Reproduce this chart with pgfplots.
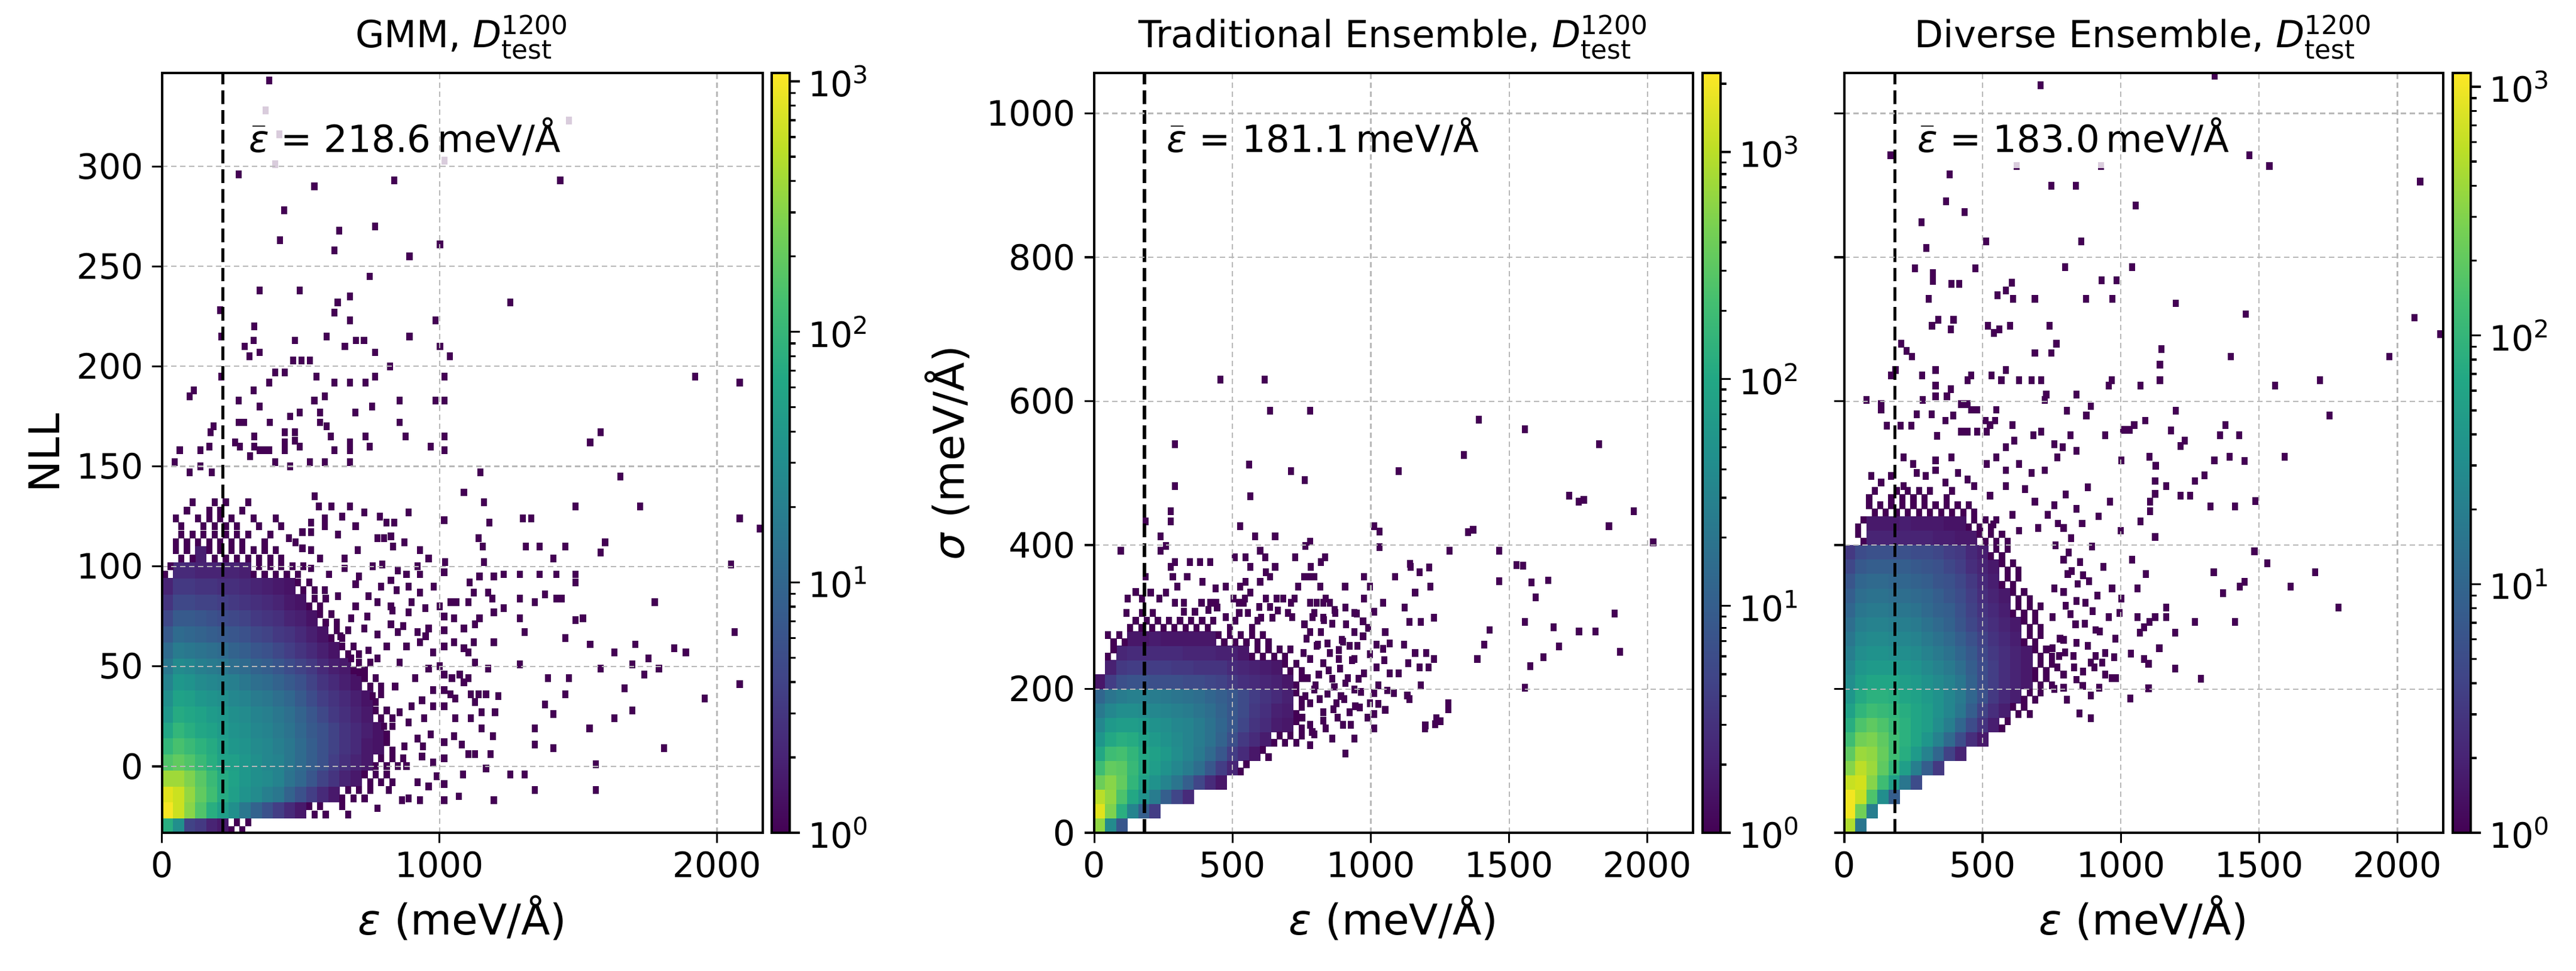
\documentclass[border=0pt]{standalone}
\usepackage{amsmath}
\usepackage{fontspec}
\setmainfont{DejaVu Sans}
\usepackage{pgfplots}
\pgfplotsset{compat=1.18}
\definecolor{vir0}{RGB}{68,1,84}
\pgfdeclareverticalshading{viridisV}{100bp}{rgb(0bp)=(0.267,0.005,0.329); rgb(25bp)=(0.267,0.005,0.329); rgb(30bp)=(0.283,0.141,0.458); rgb(35bp)=(0.254,0.265,0.530); rgb(40bp)=(0.207,0.372,0.553); rgb(45bp)=(0.164,0.471,0.558); rgb(50bp)=(0.128,0.567,0.551); rgb(55bp)=(0.135,0.659,0.518); rgb(60bp)=(0.267,0.749,0.441); rgb(65bp)=(0.478,0.821,0.318); rgb(70bp)=(0.741,0.873,0.150); rgb(75bp)=(0.993,0.906,0.144); rgb(100bp)=(0.993,0.906,0.144)}
\pgfdeclareplotmark{cellA}{\pgfpathrectangle{\pgfqpoint{-2.3pt}{-3.28pt}}{\pgfqpoint{4.6pt}{6.56pt}}\pgfusepathqfill}
\pgfdeclareplotmark{cellB}{\pgfpathrectangle{\pgfqpoint{-2.3pt}{-2.95pt}}{\pgfqpoint{4.6pt}{5.9pt}}\pgfusepathqfill}
\pgfdeclareplotmark{cellS}{\pgfpathrectangle{\pgfqpoint{-1.22pt}{-1.55pt}}{\pgfqpoint{2.44pt}{3.1pt}}\pgfusepathqfill}
\tikzset{annot/.style={anchor=base west, fill=white, fill opacity=0.8, text opacity=1, inner sep=5pt, font=\fontsize{15}{18}\selectfont}}
\pgfplotsset{
  hist/.style={
    scale only axis, height=304.8pt,
    xmin=0, xmax=2165,
    axis on top,
    clip marker paths=true,
    grid=major,
    grid style={line width=0.5pt, color=black!28, dash pattern=on 2.2pt off 1.4pt},
    axis line style={line width=0.9pt},
    tick style={black, line width=0.8pt},
    major tick length=4pt,
    tick align=outside,
    tick pos=left,
    tick label style={font=\fontsize{14}{16}\selectfont},
    label style={font=\fontsize{17}{20}\selectfont},
    title style={font=\fontsize{15}{18}\selectfont, yshift=-4pt},
    /pgf/number format/assume math mode=true,
    /pgf/number format/1000 sep={},
    colormap/viridis,
  },
  cbar/.style={
    anchor=south west, scale only axis, width=7.2pt, height=304.8pt,
    xmin=0, xmax=1, ymin=0,
    axis on top,
    axis line style={line width=0.8pt},
    tick style={black, line width=0.8pt},
    xtick=\empty,
    ytick={0,1,2,3},
    yticklabels={10\textsuperscript{0},10\textsuperscript{1},10\textsuperscript{2},10\textsuperscript{3}},
    major tick length=4pt, minor tick length=2.4pt,
    tick align=outside,
    ytick pos=right, yticklabel pos=right,
    tick label style={font=\fontsize{14}{16}\selectfont},
  },
  cells/.style={scatter, only marks, point meta=explicit, scatter/use mapped color={fill=mapped color}},
  spots/.style={scatter, only marks, mark=cellS, point meta=0, scatter/use mapped color={fill=vir0}},
  meanline/.style={black, line width=1.3pt, dash pattern=on 5.5pt off 2.4pt, no marks, point meta=0, forget plot},
}
\begin{document}
\begin{tikzpicture}
\path[use as bounding box] (0,0) rectangle (1033.44pt,389.52pt);
% ---------------- Panel 1 ----------------
\begin{axis}[hist, name=p1, at={(65pt,55.4pt)}, anchor=south west, width=241pt,
  ymin=-33.3, ymax=346.7,
  xtick={0,1000,2000}, ytick={0,50,100,150,200,250,300},
  point meta min=0, point meta max=3.033,
  title={GMM, \textit{D}$^{\text{1200}}_{\text{test}}$},
  xlabel={\textit{ε} (meV/Å)}, ylabel={NLL}]
\addplot[cells, mark=cellA] table[x=x, y=y, meta=l] {
x y l
20 -30 1.9
60 -30 1.5
100 -30 0.6
140 -30 0.5
180 -30 0.3
220 -30 0.2
20 -22 3.0
60 -22 2.8
100 -22 2.5
140 -22 2.2
180 -22 1.9
220 -22 1.7
260 -22 1.5
300 -22 1.2
340 -22 0.95
380 -22 0.75
420 -22 0.55
460 -22 0.35
500 -22 0.2
20 -14 2.9
60 -14 2.8
100 -14 2.55
140 -14 2.3
180 -14 2.1
220 -14 1.85
260 -14 1.7
300 -14 1.55
340 -14 1.45
380 -14 1.3
420 -14 1.2
460 -14 0.95
500 -14 0.75
540 -14 0.55
580 -14 0.35
620 -14 0.2
20 -6 2.6
60 -6 2.6
100 -6 2.45
140 -6 2.25
180 -6 2.05
220 -6 1.85
260 -6 1.75
300 -6 1.6
340 -6 1.5
380 -6 1.45
420 -6 1.35
460 -6 1.15
500 -6 1.0
540 -6 0.8
580 -6 0.6
620 -6 0.45
660 -6 0.3
700 -6 0.2
20 2 2.2
60 2 2.3
100 2 2.2
140 2 2.05
180 2 1.9
220 2 1.75
260 2 1.7
300 2 1.6
340 2 1.5
380 2 1.4
420 2 1.35
460 2 1.2
500 2 1.05
540 2 0.9
580 2 0.75
620 2 0.55
660 2 0.4
700 2 0.3
740 2 0.2
20 10 2.0
60 10 2.15
100 10 2.05
140 10 1.95
180 10 1.85
220 10 1.7
260 10 1.6
300 10 1.55
340 10 1.45
380 10 1.4
420 10 1.3
460 10 1.2
500 10 1.05
540 10 0.9
580 10 0.75
620 10 0.6
660 10 0.45
700 10 0.35
740 10 0.2
780 10 0.15
20 18 1.8
60 18 2.0
100 18 1.9
140 18 1.8
180 18 1.75
220 18 1.65
260 18 1.55
300 18 1.5
340 18 1.4
380 18 1.35
420 18 1.25
460 18 1.15
500 18 1.0
540 18 0.85
580 18 0.75
620 18 0.6
660 18 0.45
700 18 0.35
740 18 0.25
780 18 0.15
20 26 1.6
60 26 1.85
100 26 1.8
140 26 1.75
180 26 1.65
220 26 1.6
260 26 1.5
300 26 1.45
340 26 1.35
380 26 1.3
420 26 1.2
460 26 1.1
500 26 0.95
540 26 0.8
580 26 0.65
620 26 0.5
660 26 0.4
700 26 0.3
740 26 0.2
20 34 1.5
60 34 1.75
100 34 1.7
140 34 1.6
180 34 1.55
220 34 1.5
260 34 1.4
300 34 1.35
340 34 1.25
380 34 1.2
420 34 1.1
460 34 1.0
500 34 0.85
540 34 0.7
580 34 0.55
620 34 0.45
660 34 0.35
700 34 0.25
740 34 0.15
20 42 1.35
60 42 1.6
100 42 1.55
140 42 1.45
180 42 1.4
220 42 1.35
260 42 1.3
300 42 1.2
340 42 1.1
380 42 1.05
420 42 0.95
460 42 0.85
500 42 0.75
540 42 0.6
580 42 0.45
620 42 0.35
660 42 0.25
700 42 0.15
20 50 1.2
60 50 1.45
100 50 1.4
140 50 1.3
180 50 1.25
220 50 1.2
260 50 1.1
300 50 1.05
340 50 0.95
380 50 0.9
420 50 0.8
460 50 0.7
500 50 0.6
540 50 0.5
580 50 0.35
620 50 0.25
660 50 0.2
20 58 1.05
60 58 1.25
100 58 1.2
140 58 1.15
180 58 1.1
220 58 1.05
260 58 0.95
300 58 0.9
340 58 0.8
380 58 0.75
420 58 0.65
460 58 0.55
500 58 0.45
540 58 0.35
580 58 0.25
620 58 0.15
20 66 0.85
60 66 1.05
100 66 1.0
140 66 0.95
180 66 0.9
220 66 0.85
260 66 0.8
300 66 0.75
340 66 0.65
380 66 0.6
420 66 0.5
460 66 0.45
500 66 0.35
540 66 0.25
580 66 0.15
20 74 0.65
60 74 0.85
100 74 0.85
140 74 0.8
180 74 0.75
220 74 0.7
260 74 0.65
300 74 0.6
340 74 0.5
380 74 0.45
420 74 0.4
460 74 0.3
500 74 0.25
540 74 0.15
20 82 0.45
60 82 0.65
100 82 0.65
140 82 0.6
180 82 0.6
220 82 0.55
260 82 0.5
300 82 0.45
340 82 0.4
380 82 0.35
420 82 0.3
460 82 0.2
500 82 0.15
20 90 0.3
60 90 0.5
100 90 0.5
140 90 0.45
180 90 0.45
220 90 0.4
260 90 0.4
300 90 0.35
340 90 0.3
380 90 0.25
420 90 0.2
460 90 0.15
60 98 0.35
100 98 0.35
140 98 0.3
180 98 0.3
220 98 0.3
260 98 0.3
300 98 0.25
140 106 0.25
};
\addplot[spots] table[x=x, y=y] {
x y
250 -32
270 -28
290 -32
310 -28
530 -20
550 -24
570 -20
590 -24
650 -20
670 -24
650 -16
670 -12
690 -16
710 -12
730 -16
750 -12
730 -4
750 -8
770 -4
790 -8
810 -4
830 -8
770 0
790 4
810 0
830 4
850 0
870 4
810 12
830 8
810 16
830 20
770 28
790 24
810 28
830 24
770 32
790 36
730 44
750 40
770 44
790 40
690 48
710 52
730 48
750 52
650 60
670 56
690 60
710 56
610 64
630 68
650 64
670 68
570 76
590 72
610 76
630 72
530 80
550 84
570 80
590 84
490 92
510 88
530 92
550 88
10 96
30 100
330 96
350 100
370 96
390 100
410 96
430 100
450 96
470 100
490 96
510 100
50 108
70 104
90 108
110 104
170 108
190 104
210 108
230 104
250 108
270 104
290 108
310 104
330 108
350 104
370 108
390 104
410 108
430 104
50 112
70 116
90 112
110 116
130 112
150 116
170 112
190 116
210 112
230 116
250 112
270 116
290 112
310 116
370 112
390 116
50 124
70 120
130 124
150 120
170 124
190 120
210 124
230 120
250 124
270 120
330 124
350 120
410 124
430 120
90 128
110 132
170 128
190 132
210 128
230 132
290 128
310 132
710 95
740 75
760 100
790 90
810 60
830 78
850 98
870 70
900 82
930 96
950 65
980 90
760 35
800 20
840 40
900 30
940 10
990 -5
1000 50
1000 80
387 343
373 328
1467 323
407 301
1018 303
423 316
277 296
836 293
549 290
1435 293
441 278
639 268
768 270
425 263
621 258
892 255
1002 261
749 245
351 238
497 238
677 235
633 232
621 227
1256 232
677 223
210 228
333 220
986 223
214 215
593 215
892 215
479 213
331 213
699 213
728 213
659 210
297 210
351 207
768 207
1002 210
315 205
473 203
503 203
533 203
1038 205
822 200
408 197
443 197
214 195
557 195
768 195
1018 195
1922 195
2082 192
387 192
621 192
677 192
733 192
331 188
114 188
100 185
587 185
277 183
549 183
857 183
986 183
1018 183
351 180
757 180
461 175
497 177
569 177
697 177
277 172
295 172
388 172
569 172
857 172
593 170
186 170
175 167
443 167
479 167
1581 167
333 165
479 163
609 165
733 165
878 165
1018 165
1543 162
264 162
443 162
677 162
280 160
171 160
333 160
351 158
369 158
387 158
443 158
497 160
621 158
677 158
749 160
968 160
1018 158
64 158
138 158
318 155
46 152
138 150
180 147
408 152
461 150
533 152
587 152
677 152
100 147
1148 147
1651 145
1491 130
1723 130
2082 124
2154 119
1301 124
1331 124
1312 110
1361 110
1411 104
1454 110
1597 112
1581 107
2050 101
1232 96
1290 96
1361 96
1421 96
1491 96
1491 92
1191 84
1290 84
1343 82
1421 84
1441 84
1381 86
1776 82
1232 79
1517 74
1491 73
1290 74
2064 67
1306 67
1454 64
1543 61
1706 61
1631 57
1846 59
1888 57
1695 51
1754 54
1791 49
1581 49
1738 46
1290 51
1391 44
1467 44
2082 41
1667 39
1454 36
1956 34
1695 28
1381 31
1411 26
1631 24
1343 19
1541 19
1810 9
1411 9
1343 11
1563 1
1306 -4
1255 -4
1343 -12
1563 -12
1088 137
1160 132
1180 122
1017 123
1140 114
1156 110
1021 102
1160 102
1017 97
1108 92
1144 95
1196 95
1124 87
1176 87
1040 82
1060 82
1104 82
1196 77
1017 75
1052 74
1144 74
1088 69
1128 71
1017 68
1052 62
1124 62
1196 62
1088 59
1104 57
1017 60
1128 52
1176 49
1017 46
1073 46
1045 44
1088 42
1104 44
1113 36
1140 36
1168 36
1017 38
1040 36
1056 34
1212 35
1128 32
1152 27
1200 27
1017 30
1056 24
1113 24
1152 19
1192 15
1052 15
1017 12
1080 11
1104 6
1128 6
1184 6
1017 4
1085 -4
1168 -1
1017 -9
1069 -15
1196 -17
1017 -17
809 122
837 122
801 114
825 115
873 112
929 108
961 104
921 100
881 96
825 93
845 88
889 90
929 87
777 82
825 80
889 77
949 79
825 71
849 67
921 67
961 69
881 60
929 62
977 57
777 54
857 52
913 44
961 49
977 38
937 33
977 30
857 27
889 22
945 24
969 16
921 14
873 10
937 5
977 2
881 0
921 -8
961 -10
865 -17
889 -16
929 -17
817 -12
777 -21
550 135
566 130
610 130
678 130
729 127
785 125
889 127
538 122
586 124
650 125
698 120
506 117
538 117
586 120
634 116
777 114
458 114
482 112
833 110
506 109
538 108
570 104
658 104
706 108
793 101
538 99
602 96
658 99
698 91
586 88
634 85
698 80
745 85
682 74
729 69
642 65
777 66
745 58
682 54
713 47
};
\addplot[meanline] coordinates {(218.6,-33.3) (218.6,346.7)};
\node[annot] at (rel axis cs:0.123,0.896) {$\bar{\text{\itshape ε}}$ = 218.6\,meV/Å};
\end{axis}
\begin{axis}[cbar, at={(309.6pt,55.4pt)}, ymax=3.033,
  minor ytick={0.301,0.477,0.602,0.699,0.778,0.845,0.903,0.954,1.301,1.477,1.602,1.699,1.778,1.845,1.903,1.954,2.301,2.477,2.602,2.699,2.778,2.845,2.903,2.954}]
\shade[shading=viridisV] (axis cs:0,0) rectangle (axis cs:1,3.033);
\end{axis}
% ---------------- Panel 2 ----------------
\begin{axis}[hist, name=p2, at={(439pt,55.4pt)}, anchor=south west, width=240.2pt,
  ymin=0, ymax=1056,
  xtick={0,500,1000,1500,2000}, ytick={0,200,400,600,800,1000},
  point meta min=0, point meta max=3.348,
  title={Traditional Ensemble, \textit{D}$^{\text{1200}}_{\text{test}}$},
  xlabel={\textit{ε} (meV/Å)}, ylabel={\textit{σ} (meV/Å)}]
\addplot[cells, mark=cellB] table[x=x, y=y, meta=l] {
x y l
20 10 2.8
60 10 1.6
100 10 0.9
20 30 3.2
60 30 2.7
100 30 2.1
140 30 1.5
180 30 1.0
220 30 0.6
20 50 3.0
60 50 2.8
100 50 2.4
140 50 2.0
180 50 1.7
220 50 1.4
260 50 1.0
300 50 0.7
340 50 0.4
20 70 2.6
60 70 2.75
100 70 2.55
140 70 2.2
180 70 1.9
220 70 1.7
260 70 1.5
300 70 1.3
340 70 1.0
380 70 0.7
420 70 0.4
460 70 0.2
20 90 2.3
60 90 2.55
100 90 2.5
140 90 2.25
180 90 2.0
220 90 1.85
260 90 1.7
300 90 1.55
340 90 1.4
380 90 1.2
420 90 0.9
460 90 0.6
500 90 0.35
20 110 2.0
60 110 2.3
100 110 2.35
140 110 2.2
180 110 2.0
220 110 1.9
260 110 1.8
300 110 1.65
340 110 1.5
380 110 1.35
420 110 1.15
460 110 0.9
500 110 0.6
540 110 0.4
580 110 0.2
20 130 1.75
60 130 2.0
100 130 2.1
140 130 2.05
180 130 1.9
220 130 1.8
260 130 1.7
300 130 1.6
340 130 1.5
380 130 1.4
420 130 1.25
460 130 1.05
500 130 0.8
540 130 0.55
580 130 0.4
620 130 0.25
20 150 1.55
60 150 1.8
100 150 1.85
140 150 1.85
180 150 1.8
220 150 1.7
260 150 1.65
300 150 1.55
340 150 1.5
380 150 1.4
420 150 1.25
460 150 1.1
500 150 0.9
540 150 0.7
580 150 0.5
620 150 0.4
660 150 0.25
700 150 0.2
20 170 1.35
60 170 1.55
100 170 1.65
140 170 1.65
180 170 1.6
220 170 1.55
260 170 1.5
300 170 1.45
340 170 1.4
380 170 1.3
420 170 1.2
460 170 1.05
500 170 0.9
540 170 0.75
580 170 0.55
620 170 0.45
660 170 0.3
700 170 0.25
20 190 1.1
60 190 1.3
100 190 1.4
140 190 1.45
180 190 1.45
220 190 1.4
260 190 1.35
300 190 1.3
340 190 1.25
380 190 1.2
420 190 1.1
460 190 1.0
500 190 0.9
540 190 0.75
580 190 0.6
620 190 0.5
660 190 0.4
700 190 0.3
20 210 0.2
60 210 0.6
100 210 0.8
140 210 0.85
180 210 0.85
220 210 0.8
260 210 0.8
300 210 0.8
340 210 0.75
380 210 0.75
420 210 0.7
460 210 0.65
500 210 0.55
540 210 0.45
580 210 0.4
620 210 0.35
660 210 0.3
700 210 0.2
60 230 0.3
100 230 0.55
140 230 0.6
180 230 0.6
220 230 0.6
260 230 0.6
300 230 0.55
340 230 0.55
380 230 0.5
420 230 0.5
460 230 0.5
500 230 0.4
540 230 0.35
580 230 0.3
620 230 0.25
660 230 0.2
100 250 0.35
140 250 0.4
180 250 0.4
220 250 0.4
260 250 0.4
300 250 0.4
340 250 0.35
380 250 0.35
420 250 0.35
460 250 0.3
500 250 0.3
540 250 0.2
140 270 0.2
180 270 0.2
220 270 0.25
260 270 0.2
300 270 0.2
340 270 0.2
380 270 0.2
420 270 0.2
};
\addplot[spots] table[x=x, y=y] {
x y
530 85
550 95
610 115
630 105
650 125
670 135
690 125
710 135
730 125
750 135
730 155
750 145
730 165
750 175
730 195
750 185
730 205
750 215
690 235
710 225
730 235
750 225
50 245
70 255
570 245
590 255
610 245
630 255
650 245
670 255
690 245
710 255
50 275
70 265
90 275
110 265
450 275
470 265
490 275
510 265
530 275
550 265
570 275
590 265
610 275
630 265
130 285
150 295
170 285
190 295
210 285
230 295
250 285
270 295
290 285
310 295
330 285
350 295
370 285
390 295
410 285
430 295
490 285
510 295
570 285
590 295
752 160
764 190
772 215
756 250
768 270
788 140
800 205
808 262
816 186
836 145
848 226
852 250
864 172
868 203
880 160
888 228
896 268
904 186
916 215
928 150
932 240
944 176
952 260
964 196
976 222
988 160
996 248
760 290
790 300
830 296
870 310
910 290
950 305
990 285
1020 262
1048 240
1060 198
1100 222
1120 262
1160 250
564 468
276 447
276 433
186 433
240 412
528 426
582 412
654 412
780 405
764 399
96 392
240 392
260 399
600 392
619 383
508 383
547 383
726 383
835 383
564 370
654 370
782 370
819 376
620 362
636 356
760 356
780 356
796 356
976 356
276 370
292 376
346 376
383 376
420 376
284 356
336 356
392 349
547 349
600 349
185 356
737 342
817 342
907 342
996 342
528 342
564 334
476 342
438 340
300 342
150 335
204 334
260 334
236 326
120 326
172 326
504 326
544 326
620 326
660 326
684 326
724 326
836 326
976 326
292 320
324 320
388 320
420 320
440 320
524 320
540 320
596 314
636 314
664 309
712 320
780 320
804 320
828 320
852 320
116 306
172 306
212 306
324 307
364 307
412 310
444 313
872 306
908 313
940 306
476 300
524 306
556 306
604 299
644 299
700 306
716 300
796 306
828 299
972 294
780 279
820 279
860 291
900 266
940 279
972 273
804 260
844 263
884 254
924 260
780 242
828 236
884 242
940 242
812 220
860 214
908 208
956 214
796 199
844 193
892 190
940 199
780 180
828 168
876 180
924 168
780 150
828 156
900 150
796 137
860 131
908 110
780 122
940 131
1012 426
1032 419
1032 397
1144 370
1176 362
1088 356
1216 342
1160 334
1044 320
1123 313
1012 307
1140 293
1180 293
1228 299
1052 279
1068 263
1044 256
1200 250
1228 242
1136 236
1176 230
1208 230
1020 230
1068 222
1028 205
1180 205
1012 194
1084 194
1132 191
1140 186
960 174
996 180
1028 179
1052 171
1012 165
1196 145
1232 151
1012 145
456 630
616 630
635 587
780 587
1390 574
1557 561
1825 540
292 540
1336 525
560 512
711 503
761 490
1101 503
292 482
1717 469
1751 460
1770 463
1950 447
1861 426
1351 418
1370 421
2021 404
1284 392
1464 392
1526 372
1550 371
1581 348
1641 351
1464 350
1596 327
1881 305
1557 293
1661 286
1753 280
1813 280
1681 259
1577 232
1625 244
1901 252
1557 202
1385 242
1410 262
1430 282
1280 172
1280 180
1237 159
1252 155
1197 149
1141 374
1211 369
};
\addplot[meanline] coordinates {(181.1,0) (181.1,1056)};
\node[annot] at (rel axis cs:0.100,0.896) {$\bar{\text{\itshape ε}}$ = 181.1\,meV/Å};
\end{axis}
\begin{axis}[cbar, at={(683.0pt,55.4pt)}, ymax=3.348,
  minor ytick={0.301,0.477,0.602,0.699,0.778,0.845,0.903,0.954,1.301,1.477,1.602,1.699,1.778,1.845,1.903,1.954,2.301,2.477,2.602,2.699,2.778,2.845,2.903,2.954,3.301}]
\shade[shading=viridisV] (axis cs:0,0) rectangle (axis cs:1,3.348);
\end{axis}
% ---------------- Panel 3 ----------------
\begin{axis}[hist, name=p3, at={(739.9pt,55.4pt)}, anchor=south west, width=240.2pt,
  ymin=0, ymax=1056,
  xtick={0,500,1000,1500,2000}, ytick={0,200,400,600,800,1000}, yticklabels={},
  point meta min=0, point meta max=3.055,
  title={Diverse Ensemble, \textit{D}$^{\text{1200}}_{\text{test}}$},
  xlabel={\textit{ε} (meV/Å)}]
\addplot[cells, mark=cellB] table[x=x, y=y, meta=l] {
x y l
20 10 2.7
60 10 1.2
20 30 3.0
60 30 2.4
100 30 1.3
20 50 3.0
60 50 2.8
100 50 2.2
140 50 1.5
180 50 0.9
20 70 2.8
60 70 2.85
100 70 2.5
140 70 2.1
180 70 1.7
220 70 1.2
260 70 0.7
20 90 2.5
60 90 2.75
100 90 2.6
140 90 2.3
180 90 2.0
220 90 1.7
260 90 1.3
300 90 0.9
340 90 0.5
20 110 2.3
60 110 2.6
100 110 2.55
140 110 2.35
180 110 2.1
220 110 1.9
260 110 1.65
300 110 1.35
340 110 1.0
380 110 0.6
420 110 0.3
20 130 2.1
60 130 2.4
100 130 2.45
140 130 2.3
180 130 2.1
220 130 1.95
260 130 1.8
300 130 1.6
340 130 1.35
380 130 1.05
420 130 0.7
460 130 0.4
500 130 0.2
20 150 1.9
60 150 2.2
100 150 2.3
140 150 2.2
180 150 2.05
220 150 1.95
260 150 1.8
300 150 1.7
340 150 1.5
380 150 1.3
420 150 1.0
460 150 0.7
500 150 0.45
540 150 0.25
20 170 1.75
60 170 2.0
100 170 2.1
140 170 2.05
180 170 2.0
220 170 1.9
260 170 1.8
300 170 1.7
340 170 1.55
380 170 1.4
420 170 1.2
460 170 0.9
500 170 0.6
540 170 0.4
580 170 0.25
20 190 1.6
60 190 1.85
100 190 1.95
140 190 1.95
180 190 1.9
220 190 1.8
260 190 1.75
300 190 1.65
340 190 1.55
380 190 1.4
420 190 1.25
460 190 1.0
500 190 0.75
540 190 0.5
580 190 0.35
620 190 0.25
20 210 1.5
60 210 1.7
100 210 1.8
140 210 1.8
180 210 1.8
220 210 1.7
260 210 1.65
300 210 1.55
340 210 1.45
380 210 1.35
420 210 1.2
460 210 0.95
500 210 0.7
540 210 0.55
580 210 0.4
620 210 0.3
660 210 0.2
20 230 1.4
60 230 1.6
100 230 1.65
140 230 1.65
180 230 1.65
220 230 1.6
260 230 1.55
300 230 1.45
340 230 1.35
380 230 1.25
420 230 1.1
460 230 0.9
500 230 0.7
540 230 0.55
580 230 0.4
620 230 0.3
660 230 0.2
20 250 1.3
60 250 1.5
100 250 1.55
140 250 1.55
180 250 1.5
220 250 1.5
260 250 1.45
300 250 1.35
340 250 1.25
380 250 1.15
420 250 1.0
460 250 0.85
500 250 0.65
540 250 0.5
580 250 0.4
620 250 0.3
660 250 0.2
20 270 1.2
60 270 1.4
100 270 1.45
140 270 1.45
180 270 1.4
220 270 1.4
260 270 1.35
300 270 1.25
340 270 1.15
380 270 1.05
420 270 0.9
460 270 0.75
500 270 0.6
540 270 0.45
580 270 0.35
620 270 0.25
20 290 1.1
60 290 1.3
100 290 1.35
140 290 1.35
180 290 1.3
220 290 1.3
260 290 1.25
300 290 1.15
340 290 1.05
380 290 0.95
420 290 0.8
460 290 0.65
500 290 0.5
540 290 0.4
580 290 0.3
620 290 0.2
20 310 1.0
60 310 1.2
100 310 1.25
140 310 1.25
180 310 1.2
220 310 1.2
260 310 1.15
300 310 1.05
340 310 0.95
380 310 0.9
420 310 0.75
460 310 0.6
500 310 0.45
540 310 0.35
580 310 0.25
20 330 0.9
60 330 1.1
100 330 1.15
140 330 1.15
180 330 1.1
220 330 1.1
260 330 1.05
300 330 1.0
340 330 0.9
380 330 0.8
420 330 0.7
460 330 0.55
500 330 0.4
540 330 0.3
580 330 0.2
20 350 0.8
60 350 1.0
100 350 1.05
140 350 1.05
180 350 1.0
220 350 1.0
260 350 0.95
300 350 0.9
340 350 0.8
380 350 0.75
420 350 0.65
460 350 0.5
500 350 0.35
540 350 0.25
20 370 0.65
60 370 0.85
100 370 0.9
140 370 0.9
180 370 0.9
220 370 0.9
260 370 0.85
300 370 0.8
340 370 0.75
380 370 0.65
420 370 0.55
460 370 0.4
500 370 0.3
540 370 0.2
20 390 0.5
60 390 0.7
100 390 0.75
140 390 0.75
180 390 0.75
220 390 0.75
260 390 0.7
300 390 0.7
340 390 0.65
380 390 0.55
420 390 0.5
460 390 0.35
500 390 0.25
100 410 0.3
140 410 0.3
180 410 0.3
220 410 0.3
260 410 0.3
300 410 0.3
340 410 0.25
380 410 0.25
420 410 0.2
460 410 0.2
100 430 0.2
140 430 0.2
180 430 0.2
220 430 0.25
260 430 0.2
300 430 0.2
340 430 0.2
380 430 0.15
420 430 0.15
};
\addplot[spots] table[x=x, y=y] {
x y
570 145
590 155
610 175
630 165
650 175
670 165
650 185
670 195
690 185
710 195
690 215
710 205
730 215
750 205
690 225
710 235
730 225
750 235
690 255
710 245
730 255
750 245
650 265
670 275
690 265
710 275
650 295
670 285
690 295
710 285
610 305
630 315
650 305
670 315
690 305
710 315
610 335
630 325
650 335
670 325
570 345
590 355
610 345
630 355
570 375
590 365
610 375
630 365
530 385
550 395
570 385
590 395
50 415
70 405
490 415
510 405
530 415
550 405
570 415
590 405
50 425
70 435
450 425
470 435
490 425
510 435
530 425
550 435
90 455
110 445
130 455
150 445
170 455
190 445
210 455
230 445
250 455
270 445
290 455
310 445
330 455
350 445
370 455
390 445
410 455
430 445
450 455
470 445
90 465
110 475
170 465
190 475
210 465
230 475
250 465
270 475
290 465
310 475
370 465
390 475
752 300
760 340
764 400
772 430
780 270
800 316
808 360
812 390
820 410
836 290
844 346
852 376
860 430
872 320
880 260
884 350
896 398
904 230
916 330
924 280
936 370
944 250
956 300
968 340
980 270
760 200
770 230
805 185
830 230
862 204
760 455
800 470
840 450
880 480
920 440
960 460
1000 420
1040 380
1060 300
1090 360
709 1039
1340 1052
1537 927
2082 905
166 942
380 915
623 927
929 927
1465 942
748 899
837 899
1053 872
367 878
435 863
279 849
296 813
512 822
856 822
1041 786
799 786
256 785
474 785
321 767
321 778
387 763
416 763
584 754
606 765
931 768
985 768
305 742
553 747
610 742
689 742
874 742
969 742
1198 736
1451 721
2061 716
2154 693
340 713
395 713
519 705
540 695
560 700
600 705
742 705
767 680
205 680
225 670
245 662
317 705
386 700
689 667
748 667
1146 672
1970 662
1398 662
1141 651
168 636
185 643
330 643
585 643
281 636
446 629
458 636
533 636
568 629
631 629
678 629
712 629
956 622
967 629
839 609
724 602
730 609
330 622
386 617
81 602
133 588
133 596
284 602
330 607
371 607
423 596
446 596
458 588
481 588
550 588
261 582
316 582
365 573
394 580
510 573
545 573
608 567
805 587
875 580
892 593
154 566
203 566
243 566
423 558
446 558
481 558
336 552
515 558
527 567
585 536
614 545
683 553
712 558
760 540
790 536
817 553
840 531
944 553
1008 560
1141 629
1720 629
1558 622
1071 622
1755 580
1199 587
1089 573
1378 567
1359 553
1428 553
1181 559
1031 560
1048 567
1216 538
1231 545
1338 518
1393 523
1448 517
1593 523
1104 523
1126 510
1002 518
1268 489
1303 497
1164 482
1124 489
1216 469
1251 469
1324 454
1413 454
1486 461
1106 460
1124 471
1106 447
1071 433
1124 411
1483 391
1529 375
1336 362
1430 342
1448 349
1703 362
1614 342
1370 333
1787 313
1164 313
1164 300
1083 286
1104 293
1124 300
1268 293
1413 293
1196 278
1068 278
1139 257
1083 242
1100 235
1196 228
1289 214
1037 249
1100 201
1034 187
976 244
981 215
1060 340
996 306
1002 326
793 380
822 364
863 358
793 335
840 322
898 308
817 304
869 291
909 282
793 268
840 264
799 251
828 246
892 237
909 246
932 237
793 220
840 213
863 224
944 220
967 215
793 202
892 191
892 159
851 166
921 202
753 257
776 246
98 496
133 487
168 496
214 482
261 500
295 496
330 504
365 487
411 500
446 491
469 482
249 513
330 518
388 522
214 522
515 513
550 522
585 504
631 513
678 500
724 504
770 522
585 482
654 478
527 469
689 460
735 442
608 442
539 429
631 420
701 424
793 424
};
\addplot[meanline] coordinates {(183.0,0) (183.0,1056)};
\node[annot] at (rel axis cs:0.101,0.896) {$\bar{\text{\itshape ε}}$ = 183.0\,meV/Å};
\end{axis}
\begin{axis}[cbar, at={(984pt,55.4pt)}, ymax=3.055,
  minor ytick={0.301,0.477,0.602,0.699,0.778,0.845,0.903,0.954,1.301,1.477,1.602,1.699,1.778,1.845,1.903,1.954,2.301,2.477,2.602,2.699,2.778,2.845,2.903,2.954}]
\shade[shading=viridisV] (axis cs:0,0) rectangle (axis cs:1,3.055);
\end{axis}
\end{tikzpicture}
\end{document}
